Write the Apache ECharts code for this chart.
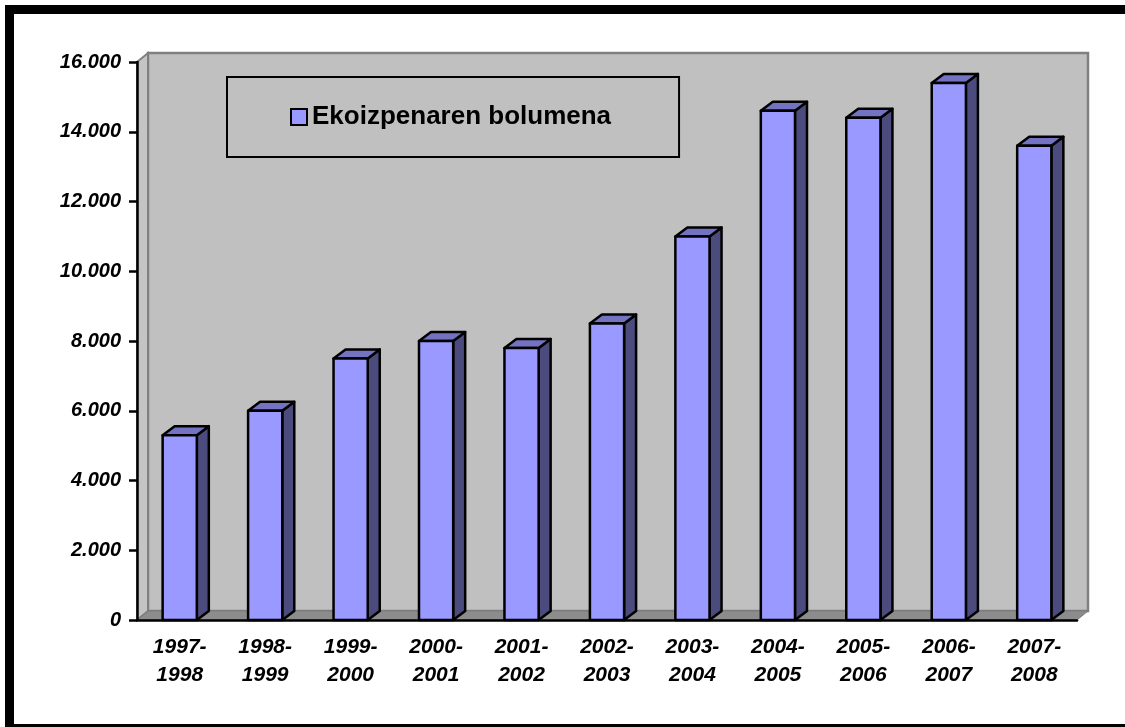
<!DOCTYPE html>
<html>
<head>
<meta charset="utf-8">
<script src="https://cdn.jsdelivr.net/npm/echarts@6/dist/echarts.min.js"></script>
<style>
  html, body { margin: 0; padding: 0; background: #fff; overflow: hidden; }
  #chart { position: absolute; left: 0; top: 0; width: 1125px; height: 727px; }
  /* black frame of the original sheet, right side cut off */
  #frame {
    position: absolute; left: 5px; top: 5px; width: 1140px; height: 728px;
    border: 9px solid #000; box-sizing: border-box; pointer-events: none;
  }
</style>
</head>
<body>
<div id="chart"></div>
<div id="frame"></div>
<script>
// categories (seasons)
var categories = ['1997-\n1998', '1998-\n1999', '1999-\n2000', '2000-\n2001', '2001-\n2002',
  '2002-\n2003', '2003-\n2004', '2004-\n2005', '2005-\n2006', '2006-\n2007', '2007-\n2008'];
// production volume
var volume = [5300, 6000, 7500, 8000, 7800, 8500, 11000, 14600, 14400, 15400, 13600];
var seriesName = 'Ekoizpenaren bolumena';
// y axis ticks
var yTicks = [0, 2000, 4000, 6000, 8000, 10000, 12000, 14000, 16000];

var DX = 11, DY = 9;      // wall depth
var BDX = 12, BDY = 9;    // bar depth

var chart = echarts.init(document.getElementById('chart'));

function fmt(v) {
  return String(v).replace(/\B(?=(\d{3})+(?!\d))/g, '.');
}

// back wall, left wall and floor
function renderWalls(params, api) {
  var c = params.coordSys;
  var x = c.x, y = c.y, w = c.width, h = c.height;
  return {
    type: 'group',
    children: [
      {
        type: 'rect',
        shape: { x: x + DX, y: y - DY, width: w, height: h },
        style: { fill: '#c0c0c0', stroke: '#808080', lineWidth: 2.5 }
      },
      {
        type: 'polygon',
        shape: { points: [[x, y], [x + DX, y - DY], [x + DX, y + h - DY], [x, y + h]] },
        style: { fill: '#c4c4c4', stroke: '#808080', lineWidth: 2 }
      },
      {
        type: 'polygon',
        shape: { points: [[x, y + h], [x + DX, y + h - DY], [x + w + DX, y + h - DY], [x + w, y + h]] },
        style: { fill: '#8c8c8c', stroke: '#7a7a7a', lineWidth: 1 }
      }
    ]
  };
}

// 3D looking bar
function renderBar(params, api) {
  var base = api.coord([api.value(0), 0]);
  var top = api.coord([api.value(0), api.value(1)]);
  var bw = api.size([1, 0])[0] * 0.4;
  var x0 = base[0] - bw / 2, x1 = base[0] + bw / 2;
  var ty = top[1], by = base[1];
  var line = { stroke: '#000', lineWidth: 2.5, lineJoin: 'round' };
  return {
    type: 'group',
    children: [
      {
        type: 'polygon',
        shape: { points: [[x1, ty], [x1 + BDX, ty - BDY], [x1 + BDX, by - BDY], [x1, by]] },
        style: Object.assign({ fill: '#4b4b7d' }, line)
      },
      {
        type: 'polygon',
        shape: { points: [[x0, ty], [x0 + BDX, ty - BDY], [x1 + BDX, ty - BDY], [x1, ty]] },
        style: Object.assign({ fill: '#7373c2' }, line)
      },
      {
        type: 'rect',
        shape: { x: x0, y: ty, width: bw, height: by - ty },
        style: Object.assign({ fill: '#9999ff' }, line)
      }
    ]
  };
}

chart.setOption({
  animation: false,
  grid: { left: 137, right: 48, top: 62, bottom: 107 },
  legend: {
    data: [seriesName],
    left: 227,
    top: 77,
    padding: [27, 68, 27, 63],
    borderColor: '#000',
    borderWidth: 2,
    backgroundColor: '#c0c0c0',
    itemWidth: 16,
    itemHeight: 16,
    itemGap: 8,
    icon: 'rect',
    itemStyle: { color: '#9999ff', borderColor: '#000', borderWidth: 2 },
    textStyle: { fontFamily: 'Liberation Sans', fontWeight: 'bold', fontSize: 26, color: '#000' }
  },
  xAxis: {
    type: 'category',
    data: categories,
    axisLine: { lineStyle: { color: '#000', width: 2.5 } },
    axisTick: { length: 8, lineStyle: { color: '#000', width: 2.5 } },
    axisLabel: {
      margin: 13,
      lineHeight: 28,
      fontFamily: 'Liberation Sans',
      fontStyle: 'italic',
      fontWeight: 'bold',
      fontSize: 21,
      color: '#000'
    },
    splitLine: { show: false }
  },
  yAxis: {
    type: 'value',
    min: yTicks[0],
    max: yTicks[yTicks.length - 1],
    interval: yTicks[1] - yTicks[0],
    axisLine: { show: true, lineStyle: { color: '#000', width: 2.5 } },
    axisTick: { show: true, length: 8, lineStyle: { color: '#000', width: 2.5 } },
    axisLabel: {
      margin: 16,
      formatter: fmt,
      fontFamily: 'Liberation Sans',
      fontStyle: 'italic',
      fontWeight: 'bold',
      fontSize: 20,
      color: '#000'
    },
    splitLine: { show: false }
  },
  series: [
    {
      type: 'custom',
      name: 'walls',
      silent: true,
      z: 0,
      renderItem: renderWalls,
      data: [[0, 0]]
    },
    {
      type: 'custom',
      name: seriesName,
      z: 2,
      itemStyle: { color: '#9999ff' },
      renderItem: renderBar,
      encode: { x: 0, y: 1 },
      data: categories.map(function (c, i) { return [i, volume[i]]; })
    }
  ]
});
</script>
</body>
</html>
